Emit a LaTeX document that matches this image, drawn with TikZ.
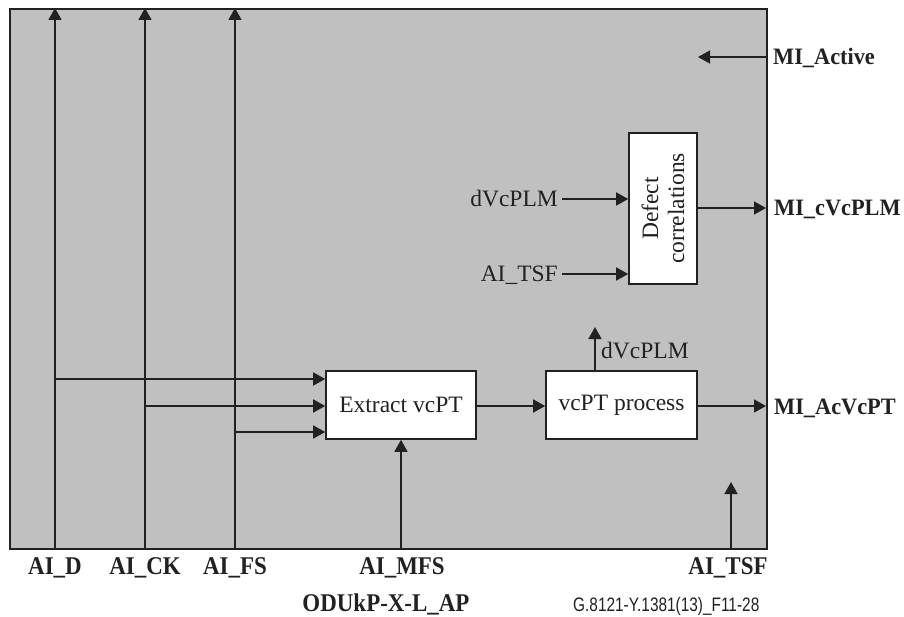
\documentclass[tikz,border=0pt]{standalone}
\usepackage{fontspec}
\setmainfont{Liberation Serif}
\newfontfamily\labsans{Liberation Sans}
\usetikzlibrary{arrows.meta}
\definecolor{bg}{RGB}{192,192,192}
\definecolor{ink}{RGB}{35,32,32}
\newcommand{\cond}[1]{\scalebox{0.9}[1]{#1}}
\newcommand{\rcond}[1]{\scalebox{0.95}[1]{#1}}
\begin{document}
\begin{tikzpicture}[x=1pt,y=-1pt,
  ln/.style={draw=ink, line width=1.6pt},
  arr/.style={ln,-{Triangle[length=12pt,width=13pt]}},
  blk/.style={draw=ink, fill=white, line width=1.6pt, inner sep=0pt,
    font=\fontsize{23.5}{25}\selectfont, align=center, text=ink},
  txt/.style={font=\fontsize{23.5}{26}\selectfont, inner sep=0pt, text=ink},
  btxt/.style={font=\fontsize{23.5}{26}\selectfont\bfseries, inner sep=0pt, text=ink},
  bltxt/.style={font=\fontsize{25.5}{28}\selectfont\bfseries, inner sep=0pt, text=ink}]
\useasboundingbox (0,0) rectangle (904,617);
% frame
\node[draw=ink, fill=bg, line width=1.6pt, minimum width=757pt, minimum height=540pt,
  inner sep=0pt, anchor=north west] (frame) at (9,8) {};
% blocks
\node[blk, minimum width=150pt, minimum height=68pt] (extract) at (401,405) {Extract vcPT};
\node[blk, minimum width=151pt, minimum height=68pt] (proc) at (621.5,405) {vcPT process};
\node[blk, minimum width=68pt, minimum height=151pt] (defect) at (663,208.5) {};
\node[txt, rotate=90, align=center, font=\fontsize{23.5}{26}\selectfont] (deftxt) at (defect.center) {Defect\\correlations};
% bottom labels
\node[bltxt, anchor=base] (lD) at (55,574) {\cond{AI\_D}};
\node[bltxt, anchor=base] (lCK) at (145,574) {\cond{AI\_CK}};
\node[bltxt, anchor=base] (lFS) at (235,574) {\cond{AI\_FS}};
\node[bltxt, anchor=base] (lMFS) at (402,574) {\cond{AI\_MFS}};
\node[bltxt, anchor=base] (lTSF) at (728,574) {\cond{AI\_TSF}};
\node[bltxt, anchor=base] (title) at (386,611) {\cond{ODUkP-X-L\_AP}};
\node[inner sep=0pt, anchor=base west, text=ink, font=\labsans\fontsize{19.5}{22}\selectfont] (fig) at (573,611) {\scalebox{0.79}[1]{G.8121-Y.1381(13)\_F11-28}};
% right labels
\node[btxt, anchor=base west] (mact) at (773,65) {\rcond{MI\_Active}};
\node[btxt, anchor=base west] (mcv) at (774,216) {\rcond{MI\_cVcPLM}};
\node[btxt, anchor=base west] (macv) at (774,414) {\rcond{MI\_AcVcPT}};
% inner labels
\node[txt, anchor=base east] (dvin) at (558,207) {dVcPLM};
\node[txt, anchor=base east] (tsfin) at (558,282) {AI\_TSF};
\node[txt, anchor=base west] (dvout) at (601,358) {dVcPLM};
% coordinates
\coordinate (tD) at (55,8);
\coordinate (tCK) at (145,8);
\coordinate (tFS) at (235,8);
\coordinate (bD) at (55,548);
\coordinate (bCK) at (145,548);
\coordinate (bFS) at (235,548);
\coordinate (bMFS) at (401,548);
\coordinate (bTSF) at (731,548);
\coordinate (tTSF) at (731,482);
\coordinate (hD) at (55,379);
\coordinate (hCK) at (145,406);
\coordinate (hFS) at (235,432);
\coordinate (actR) at (766,57);
\coordinate (actL) at (698,57);
\coordinate (dvS) at (562,199);
\coordinate (tsfS) at (562,274);
\coordinate (cvR) at (766,208);
\coordinate (acR) at (766,406);
\coordinate (upS) at (595,371);
\coordinate (upE) at (595,327);
% vertical inputs
\draw[arr] (bD) -- (tD);
\draw[arr] (bCK) -- (tCK);
\draw[arr] (bFS) -- (tFS);
\draw[arr] (bMFS) -- (extract.south);
\draw[arr] (bTSF) -- (tTSF);
% horizontal feeds to extract
\draw[arr] (hD) -- (hD -| extract.west);
\draw[arr] (hCK) -- (hCK -| extract.west);
\draw[arr] (hFS) -- (hFS -| extract.west);
% chain
\draw[arr] (extract.east |- acR) -- (proc.west |- acR);
\draw[arr] (proc.east |- acR) -- (acR);
\draw[arr] (upS) -- (upE);
% defect
\draw[arr] (dvS) -- (dvS -| defect.west);
\draw[arr] (tsfS) -- (tsfS -| defect.west);
\draw[arr] (defect.east |- cvR) -- (cvR);
% active
\draw[arr] (actR) -- (actL);
\end{tikzpicture}
\end{document}
